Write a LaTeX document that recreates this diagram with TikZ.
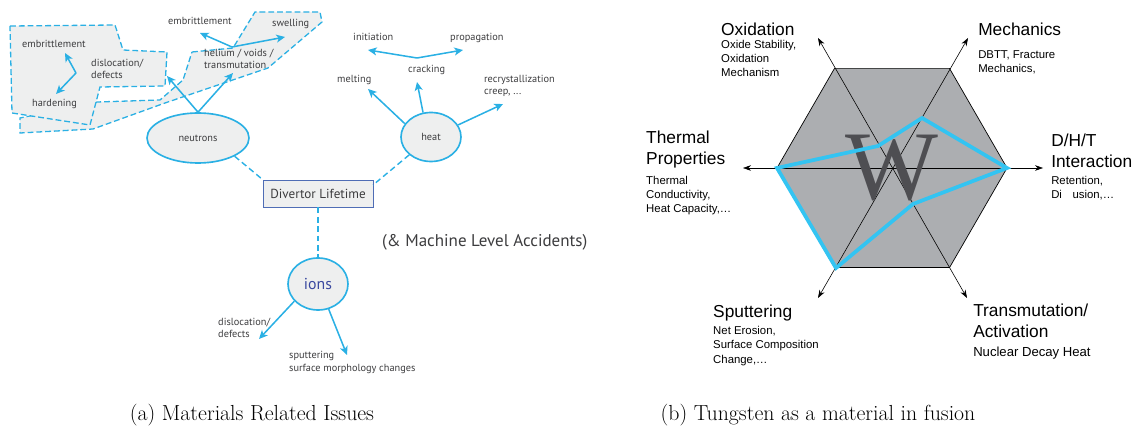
\documentclass[tikz,border=0pt]{standalone}
\usepackage{fontspec}
\usetikzlibrary{arrows.meta,shapes.geometric}
\newfontfamily\lsans{PT Sans}
\newfontfamily\rsans{Liberation Sans}
\newfontfamily\wserif{Liberation Serif}
\definecolor{cy}{HTML}{2AB0E4}
\definecolor{regfill}{HTML}{EEEFEF}
\definecolor{tgray}{HTML}{3C3C3E}
\definecolor{boxblue}{HTML}{4F6DB5}
\definecolor{ionblue}{HTML}{3A49A0}
\definecolor{hexfill}{HTML}{ACAEB1}
\definecolor{polyblue}{HTML}{33C4F2}
\definecolor{wgray}{HTML}{4E4E52}
\begin{document}
\begin{tikzpicture}[x=0.03cm,y=-0.03cm,
  lbl/.style={font=\lsans\fontsize{8.8}{10.4}\selectfont, text=tgray, inner sep=0pt, anchor=base west, align=left},
  carrow/.style={cy, line width=1.3pt, -{Stealth[length=2.6mm,width=2.4mm,inset=0.7mm]}},
  cdash/.style={cy, line width=1.2pt, dash pattern=on 5pt off 3pt},
  region/.style={fill=regfill, draw=cy, line width=1.1pt, dash pattern=on 5pt off 2.5pt},
  ell/.style={ellipse, draw=cy, fill=regfill, line width=1.4pt, inner sep=0pt, text=tgray},
  axis/.style={black, line width=0.5pt, {Stealth[length=2.4mm,width=1.7mm]}-{Stealth[length=2.4mm,width=1.7mm]}},
  big/.style={font=\rsans\fontsize{14.8}{18.3}\selectfont, anchor=base west, inner sep=0pt, align=left},
  small/.style={font=\rsans\fontsize{9.7}{12.3}\selectfont, anchor=base west, inner sep=0pt, align=left},
  mid/.style={font=\rsans\fontsize{11.2}{13}\selectfont, anchor=base west, inner sep=0pt},
  capt/.style={font=\fontsize{18.6}{21}\selectfont, anchor=base, inner sep=0pt}
]
\useasboundingbox (0,0) rectangle (1133,433);

% ---------- (a) ----------
\draw[region] (192,52) -- (233,48) -- (255,12) -- (320,12) -- (322,22) -- (268,68)
  -- (165,103) -- (93,129) -- (20,133) -- (20,118) -- (97,102) -- (160,100) -- (183,80) -- cycle;
\draw[region] (10,26) -- (115,25) -- (123,50) -- (167,52) -- (165,86) -- (100,87)
  -- (90,125) -- (12,113) -- cycle;

% (multi-line labels are placed at the baseline of their last line)
\node[lbl] (emb1) at (22,48) {embrittlement};
\node[lbl] (hard) at (32,107) {hardening};
\node[lbl] (disl1) at (91,79) {dislocation/\\defects};
\node[lbl] (emb2) at (168,25) {embrittlement};
\node[lbl] (swel) at (272,27) {swelling};
\node[lbl] (hel) at (204,69) {helium / voids /\\transmutation};
\node[lbl] (init) at (353,41) {initiation};
\node[lbl] (prop) at (450,41) {propagation};
\node[lbl] (melt) at (337,83) {melting};
\node[lbl] (crack) at (408,73) {cracking};
\node[lbl] (recr) at (484,95) {recrystallization\\creep, ...};
\node[lbl] (disl2) at (218,338) {dislocation/\\defects};
\node[lbl] (sput) at (289,371) {sputtering\\surface morphology changes};

\node[ell, minimum width=3.06cm, minimum height=1.5cm, font=\lsans\fontsize{8.8}{10}\selectfont] (neu) at (198,138) {neutrons};
\node[ell, minimum width=1.8cm, minimum height=1.47cm, font=\lsans\fontsize{8.8}{10}\selectfont] (heat) at (431,137) {heat};
\node[draw=boxblue, fill=regfill, line width=0.8pt, minimum width=3.3cm, minimum height=0.81cm, inner sep=0pt,
  text=tgray, font=\lsans\fontsize{11.2}{13}\selectfont] (div) at (318,193.5) {Divertor Lifetime};
\node[ell, minimum width=1.8cm, minimum height=1.56cm, text=ionblue, font=\lsans\fontsize{13.5}{15}\selectfont] (ion) at (318,284) {ions};
\node[font=\lsans\fontsize{14.5}{16}\selectfont, text=tgray, anchor=base west, inner sep=0pt] (acc) at (382,247) {(\& Machine Level Accidents)};

% dashed connectors
\coordinate (dne) at (373,185);
\draw[cdash] (neu.south east) -- (div.north west);
\draw[cdash] (heat.south west) -- (dne);
\draw[cdash] (div.south) -- (ion.north);

% arrow end points
\coordinate (a1) at (167,76);
\coordinate (a2) at (233,73);
\coordinate (vb) at (232,47);
\coordinate (a3) at (200,33);
\coordinate (a4) at (285,37);
\coordinate (hb) at (76,73);
\coordinate (a5) at (65,53);
\coordinate (a6) at (56,94);
\coordinate (a7) at (368,89);
\coordinate (a8) at (417,82);
\coordinate (a9) at (503,104);
\coordinate (cb) at (417,58);
\coordinate (a10) at (368,50);
\coordinate (a11) at (463,50);
\coordinate (a12) at (259,339);
\coordinate (a13) at (347,355);

\draw[carrow] (neu.north) -- (a1);
\draw[carrow] (neu.north) -- (a2);
\draw[carrow] (vb) -- (a3);
\draw[carrow] (vb) -- (a4);
\draw[carrow] (hb) -- (a5);
\draw[carrow] (hb) -- (a6);
\draw[carrow] (heat.153) -- (a7);
\draw[carrow] (heat.108) -- (a8);
\draw[carrow] (heat.24) -- (a9);
\draw[carrow] (cb) -- (a10);
\draw[carrow] (cb) -- (a11);
\draw[carrow] (ion.216) -- (a12);
\draw[carrow] (ion.293) -- (a13);

% ---------- (b) ----------
\draw[fill=hexfill, draw=black, line width=0.6pt]
  (777,168) -- (834.5,68.4) -- (949.5,68.4) -- (1007,168) -- (949.5,267.6) -- (834.5,267.6) -- cycle;
\draw[axis] (743,168) -- (1043,168);
\draw[axis] (818,38) -- (967,298);
\draw[axis] (968,38) -- (818,298);
\node[font=\wserif\fontsize{84}{84}\selectfont, text=wgray, inner sep=0pt] (w) at (892,168.5) {W};
\draw[polyblue, line width=3.2pt] (777,168) -- (878,146) -- (922,118) -- (1007,168) -- (913,204) -- (836,268) -- cycle;

\node[big] (oxt) at (721,36) {Oxidation};
\node[small] (oxs) at (721,77) {Oxide Stability,\\Oxidation\\Mechanism};
\node[big] (met) at (978,36) {Mechanics};
\node[small] (mes) at (978,73) {DBTT, Fracture\\Mechanics,};
\node[big] (tpt) at (646,165) {Thermal\\Properties};
\node[small] (tps) at (646,213) {Thermal\\Conductivity,\\Heat Capacity,…};
\node[big] (dht) at (1051,168) {D/H/T\\Interaction};
\node[small] (dhs) at (1051,199) {Retention,\\Di\hspace{9pt}usion,…};
\node[big] (spt) at (713,317) {Sputtering};
\node[small] (sps) at (713,363) {Net Erosion,\\Surface Composition\\Change,…};
\node[big] (trt) at (973,338) {Transmutation/\\Activation};
\node[mid] (trs) at (973,356) {Nuclear Decay Heat};

% captions
\node[capt] (capa) at (252,420) {(a) Materials Related Issues};
\node[capt] (capb) at (818,420) {(b) Tungsten as a material in fusion};
\end{tikzpicture}
\end{document}
